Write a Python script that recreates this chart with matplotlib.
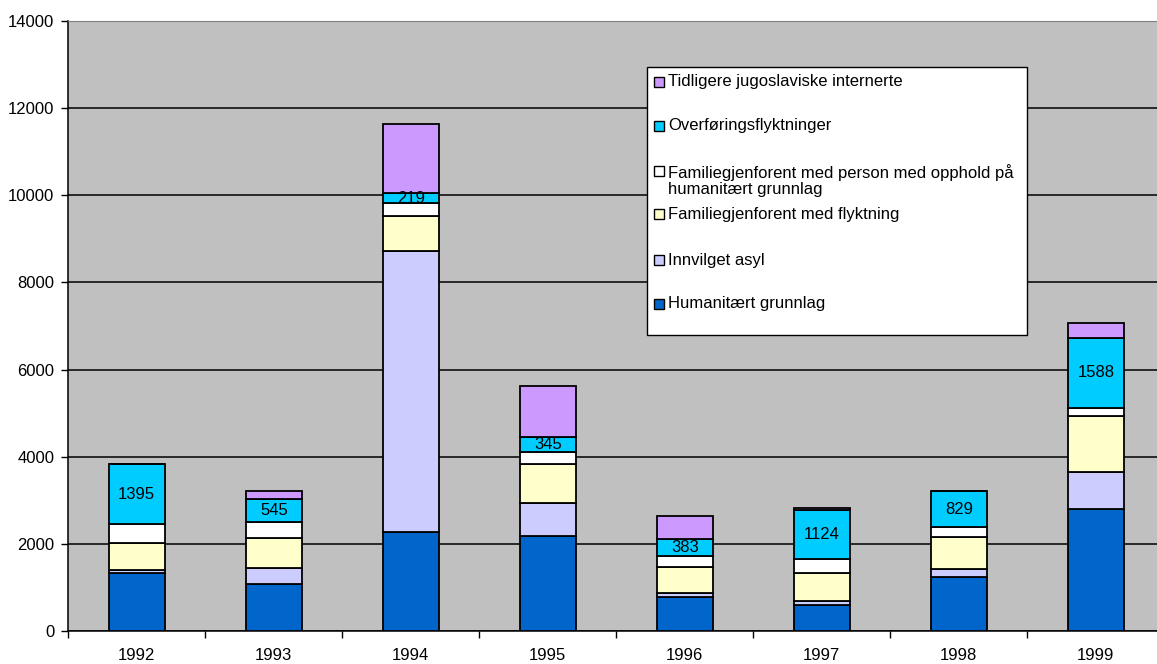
import matplotlib
matplotlib.use("Agg")
import matplotlib.pyplot as plt
from matplotlib.patches import Rectangle
import numpy as np

plt.rcParams['font.family'] = ['Liberation Sans', 'DejaVu Sans']

years = ['1992', '1993', '1994', '1995', '1996', '1997', '1998', '1999']

# series from bottom to top of each stack
humanitaert = [1320, 1070, 2268, 2177, 769, 592, 1250, 2811]
asyl = [90, 368, 6459, 754, 93, 100, 184, 849]
flyktning = [615, 697, 804, 892, 607, 639, 734, 1277]
person_hum = [420, 360, 292, 277, 254, 331, 214, 191]
overforing = [1395, 545, 219, 345, 383, 1124, 829, 1588]
jugoslaviske = [0, 176, 1585, 1170, 531, 38, 12, 352]

series = [
    ("Humanitært grunnlag", humanitaert, "#0066CC"),
    ("Innvilget asyl", asyl, "#CCCCFF"),
    ("Familiegjenforent med flyktning", flyktning, "#FFFFCC"),
    ("Familiegjenforent med person med opphold på\nhumanitært grunnlag", person_hum, "#FFFFFF"),
    ("Overføringsflyktninger", overforing, "#00CCFF"),
    ("Tidligere jugoslaviske internerte", jugoslaviske, "#CC99FF"),
]

W, H = 1157, 664
fig = plt.figure(figsize=(W / 100, H / 100), dpi=100)
ax = fig.add_axes([68.3 / W, 33 / H, (1164.3 - 68.3) / W, 610 / H])
ax.set_facecolor("#C0C0C0")

x = np.arange(len(years))
bottom = np.zeros(len(years))
for name, vals, col in series:
    vals = np.array(vals, dtype=float)
    bars = ax.bar(x, vals, 0.41, bottom=bottom, color=col, edgecolor="black",
                  linewidth=1.3, zorder=3)
    if name == "Overføringsflyktninger":
        for xi, b, v in zip(x, bottom, vals):
            ax.text(xi, b + v / 2, str(int(v)), ha="center", va="center",
                    fontsize=12, zorder=4)
    bottom += vals

ax.set_xlim(-0.5, len(years) - 0.5)
ax.set_ylim(0, 14000)
ax.set_yticks(np.arange(0, 14001, 2000))
ax.yaxis.grid(True, color="black", linewidth=1.1, zorder=1)
ax.set_axisbelow(True)

ax.set_xticks(x)
ax.set_xticklabels(years, fontsize=12)
ax.set_xticks(np.arange(-0.5, len(years)), minor=True)
ax.tick_params(axis="x", which="major", length=0, pad=12)
ax.tick_params(axis="x", which="minor", length=5, direction="out", width=1)
ax.tick_params(axis="y", length=5, direction="out", width=1, labelsize=12, pad=5)

ax.spines["right"].set_visible(False)
ax.spines["top"].set_color("#808080")
ax.spines["left"].set_linewidth(1.1)
ax.spines["bottom"].set_linewidth(1.1)

# legend box drawn by hand to follow the original layout
def fx(px):
    return px / W

def fy(py):
    return 1 - py / H

fig.patches.append(Rectangle((fx(647.3), fy(335)), fx(1027.3) - fx(647.3), fy(67.3) - fy(335),
                             transform=fig.transFigure, facecolor="white",
                             edgecolor="black", linewidth=1, zorder=5))
legend_rows = [81.7, 125.7, 180.5, 214.3, 260, 304]
handle_rows = [81.7, 125.7, 171, 214.3, 260, 304]
for (name, vals, col), ty, hy in zip(series[::-1], legend_rows, handle_rows):
    fig.patches.append(Rectangle((fx(654), fy(hy + 5)), fx(664) - fx(654), fy(hy - 5) - fy(hy + 5),
                                 transform=fig.transFigure, facecolor=col,
                                 edgecolor="black", linewidth=1, zorder=6))
    fig.text(fx(668.3), fy(ty), name, ha="left", va="center", fontsize=12,
             linespacing=1.14, zorder=7)

fig.savefig("out.png", dpi=100)
